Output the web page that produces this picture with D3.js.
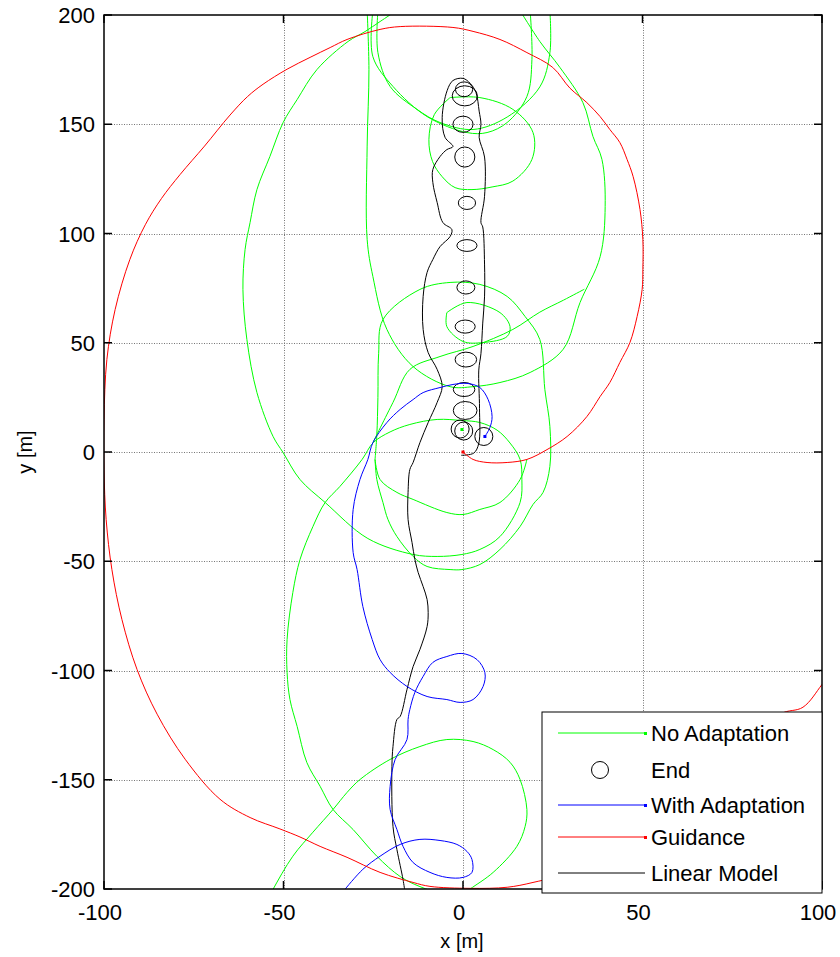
<!DOCTYPE html>
<html>
<head>
<meta charset="utf-8">
<script src="https://d3js.org/d3.v7.min.js"></script>
<style>
  body { margin: 0; background: #fff; }
  svg text { font-family: "Liberation Sans", Arial, sans-serif; fill: #000; }
</style>
</head>
<body>
<div id="chart"></div>
<script>
// axis ticks
const xTicks = [-100, -50, 0, 50, 100];
const yTicks = [-200, -150, -100, -50, 0, 50, 100, 150, 200];

// Guidance (red)
const guidance = [
  [0, 0], [2.8, -3.4], [6.7, -4.8], [12.3, -4.8], [17.8, -3.4], [23.4, 1.1], [29, 7.1],
  [34.5, 16.2], [38.2, 25.4], [40.9, 31.8], [43.7, 41], [46.5, 50.1], [48.5, 62], [49.9, 74.4],
  [50.1, 83.5], [50.1, 97.3], [49.3, 111], [47.4, 126], [45.7, 133.9], [43.7, 141.6], [40.9, 147.6],
  [38.2, 153.5], [34.5, 159.9], [29.8, 166.5], [25, 176], [17.8, 182.8], [10.3, 188.8], [2.8, 192.5],
  [-2.8, 194.3], [-17.5, 194.7], [-23.1, 193.4], [-32.3, 188.8], [-37, 185.1], [-42.6, 180.6],
  [-49, 175.2], [-55.7, 168.3], [-60, 162.7], [-64.9, 154.2], [-72, 140], [-78.8, 127],
  [-84, 116], [-88.5, 104], [-92.8, 88.1], [-96.9, 65.2], [-99.2, 42.3], [-100, 14.9], [-100, -8],
  [-99.4, -30.9], [-97.8, -53.8], [-95, -76.7], [-90.8, -99.5], [-85.2, -120], [-77.4, -140.6],
  [-67.7, -158.9], [-59.3, -167.3], [-51, -172.5], [-45.4, -176.2], [-39.8, -180.5], [-32.3, -185.5],
  [-23.1, -192.4], [-13.9, -197], [-9.2, -198.8], [2, -199.7], [12.3, -199.2], [19.5, -197],
  [32.6, -191], [52, -172.8], [71.6, -145.4], [88.3, -120], [94.7, -116.8], [100, -106.4], [105, -95]
];

// With Adaptation (blue)
const withAdapt = [
  [-32.9, -200.2], [-27.9, -191], [-23.1, -185], [-17.5, -179.6], [-12, -177.3], [-6.4, -177.8],
  [-1.7, -179.6], [1.1, -182.8], [2.5, -186.5], [2.5, -192.4], [0, -194.7], [-4.5, -194.7],
  [-9.2, -192.4], [-13.9, -187.9], [-16.7, -180.5], [-18.4, -172.8], [-20.3, -163.6], [-20.3, -153.1],
  [-18.9, -140.7], [-15.6, -131.6], [-15.3, -122.4], [-14.8, -117.8], [-13.4, -110], [-11.1, -102.7],
  [-8.4, -96.3], [-4.5, -93.6], [-0.3, -92.2], [3.9, -95], [6.1, -101], [5.6, -107.3], [2.8, -113.3],
  [-0.8, -114.6], [-4.5, -113.3], [-10, -111.9], [-15.6, -107.3], [-20.3, -100.9], [-23.1, -95],
  [-25.3, -85.8], [-27.9, -70.7], [-29.5, -53.8], [-30.6, -46], [-30.6, -26.3], [-28.7, -12.6],
  [-26.5, -3.4], [-25.1, 4.3], [-21.2, 13.5], [-17.5, 19.5], [-13.9, 24], [-11.1, 27.2], [-6.4, 29.5],
  [-2.8, 30.9], [1.1, 31.4], [4.7, 29.5], [7, 24], [8.1, 16.2], [7.5, 11.2], [6.1, 7.1]
];

// No Adaptation (green), drawn as separate pieces
const noAdaptMain = [
  [-18.9, 201.6], [-23.1, 197], [-27.3, 192.4], [-32, 187.9], [-40.7, 175], [-46.2, 161.3],
  [-50.1, 150.8], [-53.8, 135.2], [-57.4, 120.1], [-59.3, 105.1], [-60.7, 92.7], [-61.3, 74.4],
  [-60.2, 51.5], [-57.4, 27.2], [-52.9, 7.1], [-50.1, -0.3], [-45.4, -12.6], [-38.4, -23.1],
  [-26.5, -39.6], [-13.9, -46.9], [-7.2, -47.8], [-0.3, -46.9], [4.7, -44.6], [10.3, -38.7],
  [15.9, -23.1], [16.4, -12.6], [15.9, -3.4], [13.1, 4.1], [9.5, 10], [4.7, 13.5], [-0.3, 14.4],
  [-7.2, 14.9], [-14.8, 12.6], [-20.3, 9.2], [-25, 4.3], [-28.1, -3.4], [-34.3, -15.8], [-38.4, -23.1],
  [-41.8, -34.1], [-45.4, -49.2], [-47.4, -64.3], [-49, -85.8], [-49, -100.9], [-48.2, -113.3],
  [-46.2, -125.6], [-43.5, -142.1], [-39.8, -153], [-36.2, -163.6], [-30.6, -172.8], [-24, -185],
  [-17.5, -194.3], [-12, -198.9], [-6, -202], [0, -202.5], [2, -200], [8.4, -192.4], [15, -180.5],
  [17.3, -171.4], [17.8, -163.6], [15.9, -149.9], [13.1, -142], [8.4, -136.2], [2.8, -132.5],
  [-4.5, -131.6], [-12, -134.8], [-20.3, -140.7], [-28.7, -149.9], [-32.3, -155.8], [-36.2, -163.6],
  [-41.8, -174], [-47.4, -185], [-53.2, -201], [-56, -210]
];
const noAdaptLoopA = [
  [-26.7, 202], [-26.2, 175], [-26.7, 140], [-26.7, 97.3], [-25.1, 80.3], [-21.2, 56.1], [-13.9, 39.1],
  [-3.6, 29.9], [2.8, 29.9], [10.3, 31.8], [18.7, 36.4], [27.9, 47], [32.6, 68.4], [38.2, 89.4],
  [39.6, 112.4], [38.7, 133.9], [36.2, 144.4], [33.4, 159.9], [27, 176], [21.4, 187.9], [15.9, 202]
];
const noAdaptU1 = [
  [24.2, 202], [24.2, 182.7], [21.4, 167.1], [12.3, 153.3], [2.8, 147.6], [-6.4, 150.8],
  [-12.8, 156.8], [-20.3, 167.3], [-23.7, 182.8], [-23.7, 202]
];
const noAdaptU2 = [
  [18.7, 202], [19.2, 179.6], [17.8, 162.7], [12.3, 150.8], [6.7, 146.2], [1.1, 146.2],
  [-10, 153.5], [-19.5, 167.3], [-25.1, 180.9], [-25.1, 202]
];
const noAdaptP = [
  [-3.6, 162.2], [4.7, 162.2], [13.9, 156.8], [19.5, 146.2], [19.2, 133.9], [13.9, 124],
  [8.1, 121.3], [2.5, 120.1], [-2.2, 121], [-5.8, 126], [-8.5, 133], [-9.5, 143], [-8, 154.4],
  [-3.6, 162.2]
];
const noAdaptB = [
  [-24.5, -3.4], [-24, 8], [-23.7, 25], [-23.5, 45], [-22.3, 60.6], [-12, 74.4], [-3.6, 77.6],
  [4.7, 76.7], [12.3, 71.2], [17.3, 62], [21.4, 51.5], [22.8, 28.6], [24.2, 11.7], [24.2, -6.6],
  [22.3, -18.5], [19.5, -24], [15.9, -34.1], [10.3, -44.6], [4.7, -51.5], [-0.3, -53.8], [-3.6, -53.8],
  [-10, -52.4], [-13.9, -47.8], [-18.4, -38.7], [-20.9, -30.9], [-22.3, -23.1], [-24, -12.6], [-24.5, -3.4]
];
const noAdaptQ = [
  [-4.5, 63.8], [1.1, 68.4], [10.3, 63.8], [13.1, 57.4], [12.3, 52.9], [5.6, 50.1], [0, 50.6],
  [-4.5, 57.4], [-4.5, 63.8]
];
const noAdaptE = [
  [-25.1, 4.3], [-19.5, 22.7], [-14.8, 37.8], [-6.4, 43.7], [2.8, 48.3], [13.9, 56.1], [21.4, 64],
  [28, 69.5], [33.8, 74.5]
];
const noAdaptD = [
  [17.8, -3.4], [15.9, -12.6], [10.3, -23.1], [4.7, -26.3], [0, -28.6], [-4.5, -27.7], [-13.9, -21.7],
  [-18.4, -18.5], [-23.1, -12.6], [-24.5, -3.4]
];
const noAdaptPieces = [noAdaptMain, noAdaptLoopA, noAdaptU1, noAdaptU2, noAdaptP,
  noAdaptB, noAdaptQ, noAdaptE, noAdaptD];
const noAdaptEnd = [-0.3, 10.3];

// Linear Model (black)
const linearPath = [
  [-16.2, -201], [-16.7, -195.7], [-18.4, -182], [-19.5, -171.4], [-19.8, -144], [-19.5, -134.8],
  [-18.4, -122.4], [-17.5, -121], [-15.6, -108.7], [-13.9, -98.2], [-12, -90.4], [-10, -79.9],
  [-9.7, -73.5], [-10, -67.5], [-11.1, -61.6], [-12.5, -55.1], [-13.4, -49.2], [-14.2, -41.4],
  [-15.3, -30.9], [-15.3, -18.5], [-14.8, -8], [-13.9, -4.8], [-12, 4.3], [-9.7, 13.5], [-7.2, 22.7],
  [-5.8, 30], [-7.2, 37.8], [-9.7, 45.5], [-11.1, 56.1], [-11.1, 71.2], [-10, 82.2], [-8.4, 88.1],
  [-6.4, 94], [-3.6, 98.6], [-3.1, 101.8], [-5.6, 105], [-7.2, 114.2], [-8.4, 123.3], [-8.4, 129.3],
  [-6.4, 135.2], [-4.5, 138.4], [-2.8, 139.8], [-5, 144], [-5.8, 153], [-4.4, 165.5], [-2.8, 170],
  [0, 171], [2, 168.7], [3.6, 164.6], [4.5, 156], [5, 150], [4.5, 144], [6, 135], [6, 117], [5, 105],
  [5.5, 103], [6, 86], [6, 71], [5.5, 59], [5, 45], [4.4, 37.5], [4.6, 20], [4.4, 4], [3, -0.5],
  [-0.5, -1.5]
];
// small loops: centre x, centre y, half width, half height
const linearLoops = [
  [0.5, 163, 3.5, 4.6], [0.3, 166, 2.4, 3.4], [0, 150, 2.8, 3.7], [0.5, 135, 2.8, 4.6],
  [1.1, 114, 2.4, 3], [1.1, 94.5, 2.8, 2.7], [0.8, 75.3, 2.5, 3], [0.6, 57.4, 2.8, 3],
  [0.8, 42.3, 3, 3.4], [0.3, 28.6, 3, 3.2], [0.6, 19, 3.3, 4.1]
];

const endPoints = [[-0.8, 10.5], [0.2, 9.6], [5.8, 7.1]];

const legendItems = ["No Adaptation", "End", "With Adaptation", "Guidance", "Linear Model"];

const W = 840, H = 957;
const pl = 104, pr = 822, pt = 15, pb = 889;

const svg = d3.select("#chart").append("svg")
  .attr("width", W).attr("height", H);

const x = d3.scaleLinear().domain([-100, 100]).range([pl, pr]);
const y = d3.scaleLinear().domain([-200, 200]).range([pb, pt]);

svg.append("defs").append("clipPath").attr("id", "plotclip")
  .append("rect").attr("x", pl).attr("y", pt)
  .attr("width", pr - pl).attr("height", pb - pt);

// grid
const grid = svg.append("g").attr("stroke", "#555").attr("stroke-width", 1)
  .attr("stroke-dasharray", "1,1.5").attr("opacity", 0.8);
grid.selectAll(".gx").data(xTicks.slice(1, -1)).join("line")
  .attr("x1", d => Math.round(x(d)) + 0.5).attr("x2", d => Math.round(x(d)) + 0.5)
  .attr("y1", pt).attr("y2", pb);
grid.selectAll(".gy").data(yTicks.slice(1, -1)).join("line")
  .attr("y1", d => Math.round(y(d)) + 0.5).attr("y2", d => Math.round(y(d)) + 0.5)
  .attr("x1", pl).attr("x2", pr);

const plot = svg.append("g").attr("clip-path", "url(#plotclip)");
const line = d3.line().x(d => x(d[0])).y(d => y(d[1]))
  .curve(d3.curveCatmullRom.alpha(0.5));

noAdaptPieces.forEach(p => {
  plot.append("path").attr("d", line(p)).attr("fill", "none")
    .attr("stroke", "#00ff00").attr("stroke-width", 1);
});
plot.append("path").attr("d", line(linearPath)).attr("fill", "none")
  .attr("stroke", "#000").attr("stroke-width", 1);
plot.selectAll(".loop").data(linearLoops).join("ellipse")
  .attr("cx", d => x(d[0])).attr("cy", d => y(d[1]))
  .attr("rx", d => x(d[2]) - x(0)).attr("ry", d => y(0) - y(d[3]))
  .attr("fill", "none").attr("stroke", "#000").attr("stroke-width", 1);
plot.append("path").attr("d", line(withAdapt)).attr("fill", "none")
  .attr("stroke", "#0000ff").attr("stroke-width", 1);
plot.append("path").attr("d", line(guidance)).attr("fill", "none")
  .attr("stroke", "#ff0000").attr("stroke-width", 1);

// end markers of the trajectories
[[noAdaptEnd, "#00ff00"], [withAdapt[withAdapt.length - 1], "#0000ff"], [guidance[0], "#ff0000"]]
  .forEach(([p, c]) => {
    plot.append("rect").attr("x", x(p[0]) - 1.5).attr("y", y(p[1]) - 1.5)
      .attr("width", 3).attr("height", 3).attr("fill", c);
  });
plot.selectAll(".end").data(endPoints).join("circle")
  .attr("cx", d => x(d[0])).attr("cy", d => y(d[1])).attr("r", 9)
  .attr("fill", "none").attr("stroke", "#000").attr("stroke-width", 1);

// box and ticks
svg.append("rect").attr("x", pl).attr("y", pt).attr("width", pr - pl)
  .attr("height", pb - pt).attr("fill", "none").attr("stroke", "#000").attr("stroke-width", 1.5);
const tl = 8;
const ticks = svg.append("g").attr("stroke", "#000").attr("stroke-width", 1.5);
xTicks.forEach(t => {
  ticks.append("line").attr("x1", x(t)).attr("x2", x(t)).attr("y1", pb).attr("y2", pb - tl);
  ticks.append("line").attr("x1", x(t)).attr("x2", x(t)).attr("y1", pt).attr("y2", pt + tl);
});
yTicks.forEach(t => {
  ticks.append("line").attr("y1", y(t)).attr("y2", y(t)).attr("x1", pl).attr("x2", pl + tl);
  ticks.append("line").attr("y1", y(t)).attr("y2", y(t)).attr("x1", pr).attr("x2", pr - tl);
});

svg.selectAll(".xl").data(xTicks).join("text")
  .attr("x", d => x(d) - 4).attr("y", pb + 31).attr("text-anchor", "middle")
  .attr("font-size", 22).text(d => d);
svg.selectAll(".yl").data(yTicks).join("text")
  .attr("x", pl - 9).attr("y", d => y(d) + 8).attr("text-anchor", "end")
  .attr("font-size", 22).text(d => d);
svg.append("text").attr("x", 462).attr("y", 948).attr("text-anchor", "middle")
  .attr("font-size", 20).text("x [m]");
svg.append("text").attr("transform", "translate(32,452) rotate(-90)")
  .attr("text-anchor", "middle").attr("font-size", 20).text("y [m]");

// legend
const lg = svg.append("g").attr("transform", "translate(542,712)");
lg.append("rect").attr("width", 280).attr("height", 181).attr("fill", "#fff")
  .attr("stroke", "#000").attr("stroke-width", 1);
const rowY = [21, 58, 93, 125, 161];
const sw = [["#00ff00", true], null, ["#0000ff", true], ["#ff0000", true], ["#000", false]];
legendItems.forEach((name, i) => {
  const yy = rowY[i];
  if (sw[i]) {
    lg.append("line").attr("x1", 16).attr("x2", 103).attr("y1", yy).attr("y2", yy)
      .attr("stroke", sw[i][0]).attr("stroke-width", 1);
    if (sw[i][1]) lg.append("rect").attr("x", 102).attr("y", yy - 1).attr("width", 3)
      .attr("height", 3).attr("fill", sw[i][0]);
  } else {
    lg.append("circle").attr("cx", 58).attr("cy", yy).attr("r", 8.5)
      .attr("fill", "none").attr("stroke", "#000").attr("stroke-width", 1);
  }
  lg.append("text").attr("x", 109).attr("y", yy + 8).attr("font-size", 22).text(name);
});
</script>
</body>
</html>
